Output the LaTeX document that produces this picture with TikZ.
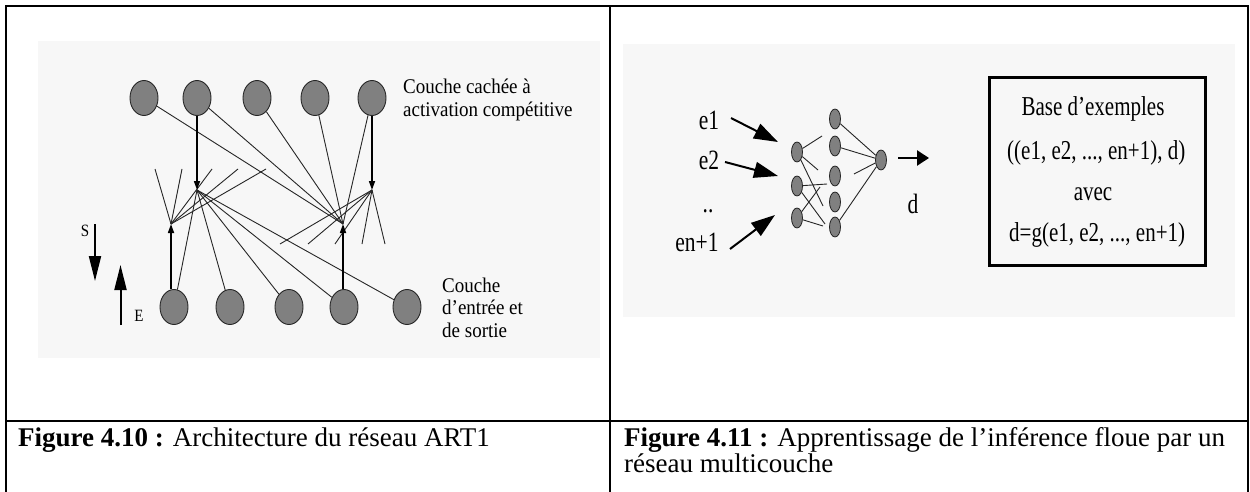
\documentclass[tikz,border=0pt]{standalone}
\usepackage{fontspec}
\setmainfont{Liberation Serif}
\usetikzlibrary{shapes.geometric,arrows.meta}
\newcommand{\vstr}[2]{\scalebox{1}[#1]{#2}}
\begin{document}
\begin{tikzpicture}[x=1pt,y=-1pt,
  bigN/.style={ellipse,draw=black!85,line width=0.9pt,fill=black!50,minimum width=28pt,minimum height=35pt,inner sep=0pt},
  smallN/.style={ellipse,draw=black!85,line width=0.8pt,fill=black!50,minimum width=11pt,minimum height=20pt,inner sep=0pt},
  thinln/.style={line width=0.9pt,draw=black!85},
  tharr/.style={line width=1.6pt,-{Triangle[length=9pt,width=6pt]}},
  bigarr/.style={line width=2pt,-{Triangle[length=24pt,width=16pt]}},
  tabline/.style={line width=2pt},
  lbl/.style={inner sep=0pt,anchor=base west,font=\fontsize{19}{19}\selectfont},
  setxt/.style={inner sep=0pt,anchor=base,font=\fontsize{15}{15}\selectfont},
  ein/.style={inner sep=0pt,anchor=base,font=\fontsize{21.5}{21.5}\selectfont},
  boxt/.style={inner sep=0pt,anchor=base,font=\fontsize{21}{21}\selectfont},
  captxt/.style={inner sep=0pt,anchor=base west,font=\fontsize{27}{27}\selectfont},
]
\useasboundingbox (0,0) rectangle (1250,492);
% backgrounds
\fill[black!3] (38,41) rectangle (600,358);
\fill[black!3] (623,44) rectangle (1235,317);
% table
\draw[tabline] (6,492) -- (6,6) -- (1248,6) -- (1248,492);
\draw[tabline] (610,6) -- (610,492);
\draw[tabline] (6,421) -- (1248,421);

% ===== left figure =====
\foreach \n/\x in {1/144,2/197,3/257,4/315,5/372}
  \node[bigN] (t\n) at (\x,98) {};
\foreach \n/\x in {1/174,2/230,3/289,4/344,5/407}
  \node[bigN] (b\n) at (\x,307) {};
\coordinate (hA) at (171,224);
\coordinate (hB) at (197,190);
\coordinate (hC) at (343,224);
\coordinate (hD) at (372,190);
\foreach \n in {1,...,5} \draw[thinln] (t\n) -- (hC);
\foreach \n in {1,...,5} \draw[thinln] (hB) -- (b\n);
\foreach \n/\x in {1/155,2/182,3/212,4/238,5/266} {
  \coordinate (sA\n) at (\x,169);
  \draw[thinln] (hA) -- (sA\n);
}
\foreach \n/\x in {1/280,2/308,3/335,4/362,5/385} {
  \coordinate (sD\n) at (\x,244);
  \draw[thinln] (hD) -- (sD\n);
}
\draw[tharr] (t2) -- (hB);
\draw[tharr] (t5) -- (hD);
\draw[tharr] (hA |- b1.north) -- (hA);
\draw[tharr] (hC |- b4.north) -- (hC);
% S / E
\coordinate (S0) at (95,224); \coordinate (S1) at (95,281);
\draw[line width=2pt,-{Triangle[length=25pt,width=12pt]}] (S0) -- (S1);
\coordinate (E0) at (120.5,325); \coordinate (E1) at (120.5,265);
\draw[line width=2pt,-{Triangle[length=25pt,width=12pt]}] (E0) -- (E1);
\node[setxt] (Slab) at (85,236) {\vstr{1.15}{S}};
\node[setxt] (Elab) at (139,321) {\vstr{1.15}{E}};
% labels
\node[lbl] (l1) at (403,94) {\vstr{1.1}{Couche cachée à}};
\node[lbl] (l2) at (403,117) {\vstr{1.1}{activation compétitive}};
\node[lbl] (l3) at (442,292) {\vstr{1.1}{Couche}};
\node[lbl] (l4) at (442,314) {\vstr{1.1}{d'entrée et}};
\node[lbl] (l5) at (442,337) {\vstr{1.1}{de sortie}};

% ===== right figure =====
\node[smallN] (a1) at (797,152) {};
\node[smallN] (a2) at (797,186) {};
\node[smallN] (a3) at (797,218) {};
\foreach \n/\y in {1/119,2/146,3/176,4/202,5/227}
  \node[smallN] (m\n) at (835,\y) {};
\node[smallN] (o) at (881,160) {};
% layer connections
\coordinate (c1) at (822,136);
\coordinate (c2) at (818,170);
\coordinate (c3) at (823,206);
\coordinate (c4) at (827,184);
\coordinate (c5) at (825,224);
\coordinate (c6) at (820,187);
\coordinate (c7) at (823,226);
\draw[thinln] (a1) -- (c1);
\draw[thinln] (a1) -- (c2);
\draw[thinln] (a1) -- (c3);
\draw[thinln] (a2) -- (c4);
\draw[thinln] (a2) -- (c5);
\draw[thinln] (a3) -- (c6);
\draw[thinln] (a3) -- (c7);
\coordinate (k3) at (854,174);
\draw[thinln] (m1) -- (o);
\draw[thinln] (m2) -- (o);
\draw[thinln] (k3) -- (o);
\draw[thinln] (m5) -- (o);
% input arrows
\coordinate (e1s) at (731,118); \coordinate (e1t) at (778,142);
\coordinate (e2s) at (725,162); \coordinate (e2t) at (778,176);
\coordinate (e3s) at (730,249); \coordinate (e3t) at (775,215);
\draw[bigarr] (e1s) -- (e1t);
\draw[bigarr] (e2s) -- (e2t);
\draw[bigarr] (e3s) -- (e3t);
\node[ein] (le1) at (709,130) {\vstr{1.3}{e1}};
\node[ein] (le2) at (709,169) {\vstr{1.3}{e2}};
\node[ein] (ldots) at (708,212) {\vstr{1.3}{..}};
\node[ein] (len) at (697,251) {\vstr{1.3}{en+1}};
% output arrow
\coordinate (ds) at (898,158); \coordinate (dt) at (929,158);
\draw[line width=2.5pt,-{Triangle[length=12pt,width=15pt]}] (ds) -- (dt);
\node[ein] (ld) at (913,213) {\vstr{1.3}{d}};
% box
\node[draw,line width=3pt,minimum width=216pt,minimum height=187pt,inner sep=0pt] (box) at (1097,171.5) {};
\node[boxt] (bx1) at (1093,116) {\vstr{1.3}{Base d'exemples}};
\node[boxt] (bx3) at (1093,200) {\vstr{1.3}{avec}};
\begin{scope}
\clip (990,78) rectangle (1195,265);
\node[boxt,anchor=base west] (bx2) at (1007,160) {\vstr{1.3}{((e1, e2, ..., en+1), d)}};
\node[boxt,anchor=base west] (bx4) at (1009,241) {\vstr{1.3}{d=g(e1, e2, ..., en+1)}};
\end{scope}

% captions
\node[captxt] (cap1) at (18,446) {\textbf{Figure 4.10 :} Architecture du réseau ART1};
\node[captxt] (cap2a) at (624,446) {\textbf{Figure 4.11 :} Apprentissage de l’inférence floue par un};
\node[captxt] (cap2b) at (624,472) {réseau multicouche};
\end{tikzpicture}
\end{document}
